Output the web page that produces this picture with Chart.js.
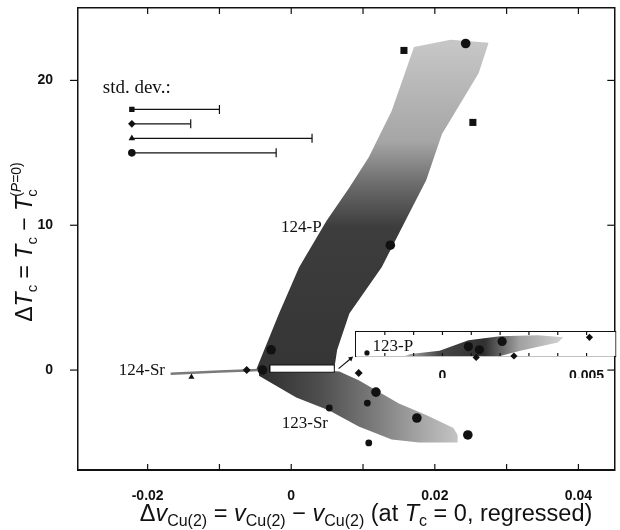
<!DOCTYPE html>
<html>
<head>
<meta charset="utf-8">
<script src="https://cdn.jsdelivr.net/npm/chart.js@4.4.1/dist/chart.umd.min.js"></script>
<style>
  body { margin: 0; background: #fff; }
  #wrap { position: relative; width: 620px; height: 530px; }
  #main { position: absolute; left: 0; top: 0; }
  #inset { position: absolute; left: 350px; top: 326px; }
</style>
</head>
<body>
<div id="wrap">
  <canvas id="main" width="620" height="530"></canvas>
  <canvas id="inset" width="270" height="52"></canvas>
</div>
<script>
// ---- main axes ----
var xRange = [-0.0297, 0.045];
var yRange = [-6.9, 25];
var xTickLabels = [-0.02, 0, 0.02, 0.04];
var xTickMarks = [-0.02, -0.01, 0, 0.01, 0.02, 0.03, 0.04];
var yTickLabels = [0, 10, 20];

// ---- shaded regions, outlines ----
var band124PUpper = [[-0.0049, 0.0], [-0.0017, 3.9], [0.0011, 7.1], [0.0049, 10.3], [0.0081, 12.6],
                     [0.0108, 14.7], [0.0140, 17.9], [0.0171, 22.3], [0.0222, 22.8], [0.0275, 22.6]];
var band124PLower = [[-0.0049, 0.0], [-0.0040, -0.3], [0.0010, -0.3], [0.0060, 0.1], [0.0064, 1.4],
                     [0.0081, 3.9], [0.0126, 7.1], [0.0164, 10.8], [0.0188, 13.1], [0.0210, 16.3],
                     [0.0261, 20.5], [0.0275, 22.6]];
var band123SrUpper = [[-0.0045, 0.3], [0.0067, -0.1], [0.0094, -0.7], [0.0150, -2.3], [0.0188, -3.1],
                      [0.0226, -4.0], [0.0232, -4.5]];
var band123SrLower = [[-0.0045, -0.4], [0.0007, -1.9], [0.0053, -2.8], [0.0094, -3.9], [0.0140, -4.8],
                      [0.0178, -5.0], [0.0232, -5.0]];
var band124Sr = [[-0.0168, -0.25], [-0.0100, -0.1], [-0.0045, 0.0]];
var zoomBoxTop = [[-0.003, 0.35], [0.006, 0.35]];
var zoomBoxBottom = [[-0.003, -0.15], [0.006, -0.15]];
var zoomBoxOutline = [[-0.003, -0.15], [0.006, -0.15], [0.006, 0.35], [-0.003, 0.35], [-0.003, -0.15]];
var arrowLine = [[0.0066, 0.1], [0.0083, 0.8]];

// ---- measured points ----
var squares = [[0.0157, 22.07], [0.0253, 17.1]];
var circlesBig = [[0.0243, 22.55], [0.0138, 8.62], [-0.0040, 0.0], [-0.0028, 1.4],
                  [0.0118, -1.52], [0.0175, -3.31], [0.0246, -4.48]];
var circlesSmall = [[0.0106, -2.28], [0.0108, -5.03], [0.0053, -2.62]];
var diamonds = [[-0.0062, 0.0], [0.0094, -0.2]];
var triangles = [[-0.0139, -0.48]];

// ---- std. dev. bars ----
var sdStart = -0.0222;
var sdEnd = [-0.0100, -0.0140, 0.0029, -0.0021];
var sdLevel = [18, 17, 16, 15];
var sdMarker = ['rect', 'rectRot', 'triangle', 'circle'];

// ---- labels ----
var labelText = ['124-P', '124-Sr', '123-Sr'];
var labelPos = [[0.0014, 9.52], [-0.0208, -0.34], [0.0019, -4.0]];
var sdTitle = 'std. dev.:';
var sdTitlePos = [-0.02625, 19.1];

// ---- inset (123-P, zoom of the white box) ----
var insetXRange = [-0.003, 0.006];
var insetYRange = [-0.15, 0.35];
var insetTickMarks = [-0.002, -0.001, 0, 0.001, 0.002, 0.003, 0.004, 0.005];
var insetTickLabels = [0, 0.005];
var insetBandUpper = [[-0.0013, -0.15], [-0.0011, -0.11], [-0.0001, -0.04], [0.0009, 0.18],
                      [0.0020, 0.26], [0.0033, 0.28], [0.0042, 0.24]];
var insetBandLower = [[-0.0013, -0.15], [0.0020, -0.15], [0.0027, -0.04], [0.0040, 0.13], [0.0042, 0.24]];
var insetCircles = [[0.0009, 0.046], [0.00128, -0.02], [0.00207, 0.154]];
var insetSmallCircles = [[-0.00262, -0.085]];
var insetDiamonds = [[0.00248, -0.15], [0.00117, -0.18], [0.0051, 0.24]];
var insetLabel = '123-P';
var insetLabelPos = [-0.00172, -0.041];

var SANS = 'Liberation Sans';
var SERIF = 'Liberation Serif';
var INK = '#111';

function pts(arr) {
  return arr.map(function (p) { return {x: p[0], y: p[1]}; });
}

function markerSet(arr, style, r) {
  return {type: 'scatter', data: pts(arr), pointStyle: style, pointRadius: r,
          backgroundColor: INK, borderColor: INK, borderWidth: 0, order: 1, clip: false};
}

function gradFill(axis, from, to, stops) {
  return function (c) {
    var ch = c.chart;
    if (!ch.chartArea) return stops[0][1];
    var s = ch.scales[axis];
    var a = s.getPixelForValue(from), b = s.getPixelForValue(to);
    var g = axis === 'x' ? ch.ctx.createLinearGradient(a, 0, b, 0) : ch.ctx.createLinearGradient(0, a, 0, b);
    stops.forEach(function (st) { g.addColorStop(st[0], st[1]); });
    return g;
  };
}

function edgeLine(arr, fill, bg, order) {
  return {type: 'line', data: pts(arr), borderColor: 'rgba(0,0,0,0)', borderWidth: 0, pointRadius: 0,
          fill: fill, backgroundColor: bg, order: order, tension: 0};
}

// no label overflow padding, the frame is fixed
function fixBox(w, h) {
  return function (s) {
    if (w !== null) s.width = w;
    if (h !== null) s.height = h;
    s.paddingTop = 0; s.paddingBottom = 0; s.paddingLeft = 0; s.paddingRight = 0;
  };
}

// inward / outward tick marks drawn on the library's scales
var tickMarks = {
  id: 'tickMarks',
  afterDraw: function (chart, args, opts) {
    var ctx = chart.ctx, a = chart.chartArea;
    ctx.save();
    ctx.strokeStyle = INK;
    ctx.lineWidth = 1.2;
    (opts.marks || []).forEach(function (m) {
      var s = chart.scales[m.scale];
      m.values.forEach(function (v) {
        var p = s.getPixelForValue(v);
        ctx.beginPath();
        if (s.isHorizontal()) {
          var y0 = m.edge === 'top' ? a.top : a.bottom;
          ctx.moveTo(p, y0); ctx.lineTo(p, y0 + m.len);
        } else {
          var x0 = m.edge === 'left' ? a.left : a.right;
          ctx.moveTo(x0, p); ctx.lineTo(x0 + m.len, p);
        }
        ctx.stroke();
      });
    });
    ctx.restore();
  }
};

var textLabels = {
  id: 'textLabels',
  afterDatasetsDraw: function (chart, args, opts) {
    var ctx = chart.ctx;
    ctx.save();
    ctx.fillStyle = INK;
    ctx.textBaseline = 'alphabetic';
    (opts.items || []).forEach(function (it) {
      ctx.font = it.font;
      ctx.textAlign = it.align || 'center';
      ctx.fillText(it.text, chart.scales.x.getPixelForValue(it.x), chart.scales.y.getPixelForValue(it.y));
    });
    ctx.restore();
  }
};

// rich text with italics and sub/superscripts: [text, font, dy, advance]
function drawRich(ctx, parts, x, y) {
  var w = 0;
  parts.forEach(function (p) {
    ctx.font = p[1];
    if (p[3] !== false) w += ctx.measureText(p[0]).width;
  });
  var cx = x - w / 2;
  parts.forEach(function (p) {
    ctx.font = p[1];
    ctx.fillText(p[0], cx, y + (p[2] || 0));
    if (p[3] !== false) cx += ctx.measureText(p[0]).width;
  });
}

var yb = '23px ' + SANS, yi = 'italic 23px ' + SANS, ys = '15px ' + SANS;
var ysup = '14px ' + SANS, ysupi = 'italic 14px ' + SANS;
var xb = '23.5px ' + SANS, xi = 'italic 23.5px ' + SANS, xs = '16px ' + SANS;
var yTitleParts = [['\u0394', yb], ['T', yi], ['c', ys, 5], [' = ', yb], ['T', yi], ['c', ys, 5],
                   [' \u2212 ', yb], ['T', yi], ['c', ys, 5, false], ['(', ysup, -11], ['P', ysupi, -11], ['=0)', ysup, -11]];
var xTitleParts = [['\u0394', xb], ['v', xi], ['Cu(2)', xs, 5], [' = ', xb], ['v', xi], ['Cu(2)', xs, 5],
                   [' \u2212 ', xb], ['v', xi], ['Cu(2)', xs, 5], [' (at ', xb], ['T', xi], ['c', xs, 5],
                   [' = 0, regressed)', xb]];

var axisTitles = {
  id: 'axisTitles',
  afterDraw: function (chart) {
    var ctx = chart.ctx;
    ctx.save();
    ctx.fillStyle = INK;
    ctx.textAlign = 'left';
    ctx.textBaseline = 'alphabetic';
    drawRich(ctx, xTitleParts, 366, 521);
    ctx.translate(32, 242);
    ctx.rotate(-Math.PI / 2);
    drawRich(ctx, yTitleParts, 0, 0);
    ctx.restore();
  }
};

var tickFont = {family: SANS, size: 14, weight: 'bold'};
function fmt(v) { return v === 0 ? '0' : String(v); }

var datasets = [];
// std. dev. bars
sdEnd.forEach(function (e, i) {
  datasets.push({type: 'line', data: pts([[sdStart, sdLevel[i]], [e, sdLevel[i]]]), borderColor: INK, borderWidth: 1.2,
                 pointStyle: [sdMarker[i], 'line'], pointRotation: [0, 90], pointRadius: [3.8, 4.5],
                 pointBackgroundColor: INK, pointBorderColor: INK, pointBorderWidth: [0, 1.2], fill: false, order: 1});
});
datasets.push(markerSet(squares, 'rect', 5));
datasets.push(markerSet(circlesBig, 'circle', 4.8));
datasets.push(markerSet(circlesSmall, 'circle', 3.4));
datasets.push(markerSet(diamonds, 'rectRot', 4));
datasets.push(markerSet(triangles, 'triangle', 3.5));
// arrow to the inset
datasets.push({type: 'line', data: pts(arrowLine), borderColor: INK, borderWidth: 1.2, pointRadius: [0, 3],
               pointStyle: 'triangle', pointRotation: 51, pointBackgroundColor: INK, pointBorderWidth: 0, order: 2});
// white zoom box
datasets.push({type: 'line', data: pts(zoomBoxOutline), borderColor: INK, borderWidth: 1, pointRadius: 0, fill: false, order: 3});
datasets.push(edgeLine(zoomBoxTop, '+1', '#fff', 4));
datasets.push(edgeLine(zoomBoxBottom, false, 'rgba(0,0,0,0)', 4));
// 124-Sr streak
datasets.push({type: 'line', data: pts(band124Sr), borderColor: '#7a7a7a', borderWidth: 2.5, pointRadius: 0, fill: false, order: 9});
// 123-Sr band
datasets.push(edgeLine(band123SrUpper, '+1', gradFill('x', -0.004, 0.024,
  [[0, '#303030'], [0.3, '#505050'], [0.55, '#7a7a7a'], [0.8, '#a8a8a8'], [1, '#c8c8c8']]), 10));
datasets.push(edgeLine(band123SrLower, false, 'rgba(0,0,0,0)', 10));
// 124-P band
datasets.push(edgeLine(band124PUpper, '+1', gradFill('y', 0, 22.5,
  [[0, '#353535'], [0.44, '#3d3d3d'], [0.58, '#707070'], [0.7, '#a5a5a5'], [1, '#c6c6c6']]), 11));
datasets.push(edgeLine(band124PLower, false, 'rgba(0,0,0,0)', 11));

var labelItems = labelText.map(function (t, i) {
  return {text: t, x: labelPos[i][0], y: labelPos[i][1], font: '17px ' + SERIF};
});
labelItems.push({text: sdTitle, x: sdTitlePos[0], y: sdTitlePos[1], font: '19px ' + SERIF, align: 'left'});

new Chart(document.getElementById('main'), {
  type: 'scatter',
  data: {datasets: datasets},
  plugins: [tickMarks, textLabels, axisTitles],
  options: {
    responsive: false,
    animation: false,
    devicePixelRatio: 1,
    layout: {padding: {top: 8, right: 3, left: 0, bottom: 0}},
    plugins: {
      legend: {display: false},
      tooltip: {enabled: false},
      tickMarks: {marks: [
        {scale: 'x', edge: 'bottom', values: xTickMarks, len: -6},
        {scale: 'x', edge: 'top', values: xTickMarks, len: 6},
        {scale: 'y', edge: 'left', values: yTickLabels, len: -8},
        {scale: 'y', edge: 'right', values: yTickLabels, len: -7}
      ]},
      textLabels: {items: labelItems}
    },
    scales: {
      x: {type: 'linear', position: 'bottom', min: xRange[0], max: xRange[1],
          grid: {display: false}, border: {color: INK, width: 2},
          ticks: {font: tickFont, color: INK, padding: 10, autoSkip: false, maxRotation: 0, callback: fmt},
          afterBuildTicks: function (s) { s.ticks = xTickLabels.map(function (v) { return {value: v}; }); },
          afterFit: fixBox(null, 60)},
      x2: {type: 'linear', position: 'top', min: xRange[0], max: xRange[1],
           grid: {display: false}, border: {color: INK, width: 1.5}, ticks: {display: false},
           afterFit: fixBox(null, 0)},
      y: {type: 'linear', position: 'left', min: yRange[0], max: yRange[1],
          grid: {display: false}, border: {color: INK, width: 1.5},
          ticks: {font: tickFont, color: INK, padding: 17, callback: fmt},
          afterBuildTicks: function (s) { s.ticks = yTickLabels.map(function (v) { return {value: v}; }); },
          afterFit: fixBox(78, null)},
      y2: {type: 'linear', position: 'right', min: yRange[0], max: yRange[1],
           grid: {display: false}, border: {color: INK, width: 1.5}, ticks: {display: false},
           afterFit: fixBox(0, null)}
    }
  }
});

// ---- inset chart ----
var insetBg = {
  id: 'insetBg',
  beforeDatasetsDraw: function (chart) {
    var a = chart.chartArea, ctx = chart.ctx;
    ctx.save();
    ctx.fillStyle = '#fff';
    ctx.fillRect(a.left, a.top, a.right - a.left, a.bottom - a.top);
    ctx.restore();
  }
};

var insetSets = [
  markerSet(insetCircles, 'circle', 4.6),
  markerSet(insetSmallCircles, 'circle', 2.6),
  markerSet(insetDiamonds, 'rectRot', 3.6),
  edgeLine(insetBandUpper, '+1', gradFill('x', -0.0013, 0.0042,
    [[0, '#b0b0b0'], [0.22, '#454545'], [0.5, '#303030'], [0.72, '#a0a0a0'], [1, '#d4d4d4']]), 10),
  edgeLine(insetBandLower, false, 'rgba(0,0,0,0)', 10)
];

new Chart(document.getElementById('inset'), {
  type: 'scatter',
  data: {datasets: insetSets},
  plugins: [insetBg, tickMarks, textLabels],
  options: {
    responsive: false,
    animation: false,
    devicePixelRatio: 1,
    layout: {padding: {top: 6, right: 3, left: 6, bottom: 0}},
    plugins: {
      legend: {display: false},
      tooltip: {enabled: false},
      tickMarks: {marks: [
        {scale: 'x', edge: 'bottom', values: insetTickMarks, len: -3},
        {scale: 'x', edge: 'top', values: insetTickMarks, len: 3}
      ]},
      textLabels: {items: [{text: insetLabel, x: insetLabelPos[0], y: insetLabelPos[1], font: '17px ' + SERIF}]}
    },
    scales: {
      x: {type: 'linear', position: 'bottom', min: insetXRange[0], max: insetXRange[1],
          grid: {display: false}, border: {color: INK, width: 1.2},
          ticks: {font: tickFont, color: INK, padding: 4, autoSkip: false, maxRotation: 0, callback: fmt},
          afterBuildTicks: function (s) { s.ticks = insetTickLabels.map(function (v) { return {value: v}; }); },
          afterFit: fixBox(null, 22)},
      x2: {type: 'linear', position: 'top', min: insetXRange[0], max: insetXRange[1],
           grid: {display: false}, border: {color: INK, width: 1.2}, ticks: {display: false},
           afterFit: fixBox(null, 0)},
      y: {type: 'linear', position: 'left', min: insetYRange[0], max: insetYRange[1],
          grid: {display: false}, border: {color: INK, width: 1.2}, ticks: {display: false},
          afterFit: fixBox(0, null)},
      y2: {type: 'linear', position: 'right', min: insetYRange[0], max: insetYRange[1],
           grid: {display: false}, border: {color: INK, width: 1.2}, ticks: {display: false},
           afterFit: fixBox(0, null)}
    }
  }
});
</script>
</body>
</html>
